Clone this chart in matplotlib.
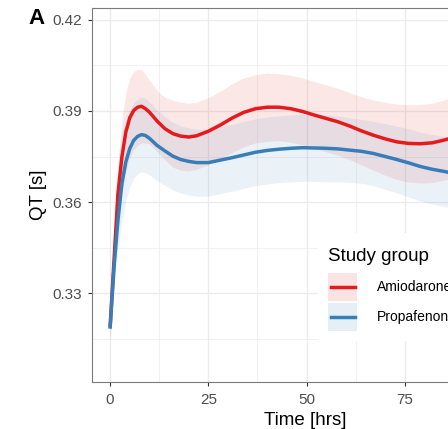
import matplotlib
matplotlib.use('Agg')
import matplotlib.pyplot as plt
from matplotlib.patches import Rectangle
from matplotlib.lines import Line2D
import numpy as np

plt.rcParams['font.family'] = ['Liberation Sans', 'DejaVu Sans']

# -----------------------------------------------------------
# data (time in hours, QT in seconds)
# -----------------------------------------------------------
time_hrs = [0, 1, 2, 3, 4, 5, 6, 7, 8, 9, 10, 12, 14, 16, 18, 20, 22, 25,
            28, 31, 34, 37, 40, 43, 46, 49, 52, 55, 58, 61, 64, 67, 70,
            73, 76, 79, 82, 85, 88, 91]

qt_amio = [0.3188, 0.3408, 0.3628, 0.3748, 0.3830, 0.3877, 0.3901, 0.3912,
           0.3915, 0.3907, 0.3896, 0.3866, 0.3841, 0.3825, 0.3817, 0.3814,
           0.3818, 0.3833, 0.3853, 0.3876, 0.3895, 0.3907, 0.3912, 0.3912,
           0.3907, 0.3898, 0.3886, 0.3875, 0.3864, 0.3850, 0.3834, 0.3820,
           0.3808, 0.3798, 0.3793, 0.3792, 0.3795, 0.3804, 0.3815, 0.3828]

qt_prop = [0.3184, 0.3386, 0.3540, 0.3660, 0.3732, 0.3776, 0.3803, 0.3816,
           0.3822, 0.3819, 0.3810, 0.3786, 0.3768, 0.3751, 0.3740, 0.3734,
           0.3730, 0.3730, 0.3738, 0.3746, 0.3755, 0.3764, 0.3770, 0.3774,
           0.3777, 0.3779, 0.3778, 0.3777, 0.3775, 0.3771, 0.3767, 0.3760,
           0.3750, 0.3740, 0.3729, 0.3717, 0.3708, 0.3701, 0.3693, 0.3685]

# half width of the confidence ribbons
ci_amio = [0.004, 0.007, 0.010, 0.012, 0.013, 0.013, 0.0128, 0.0125,
           0.012, 0.0113, 0.0105, 0.0100, 0.0103, 0.0110, 0.0112, 0.0111,
           0.0110, 0.0110, 0.0111, 0.0113, 0.0113, 0.0112, 0.0112, 0.0110,
           0.0110, 0.0110, 0.0110, 0.0110, 0.0110, 0.0110, 0.0112, 0.0115,
           0.0120, 0.0124, 0.0127, 0.0129, 0.0130, 0.0132, 0.0135, 0.0138]

ci_prop = [0.004, 0.007, 0.010, 0.012, 0.0125, 0.0125, 0.0124, 0.0123,
           0.0123, 0.0122, 0.0120, 0.0116, 0.0113, 0.0111, 0.0110, 0.0110,
           0.0110, 0.0110, 0.0110, 0.0110, 0.0110, 0.0110, 0.0110, 0.0110,
           0.0110, 0.0110, 0.0110, 0.0110, 0.0108, 0.0106, 0.0105, 0.0106,
           0.0108, 0.0110, 0.0112, 0.0113, 0.0114, 0.0115, 0.0116, 0.0118]

groups = ['Amiodarone', 'Propafenone']
colors = ['#E41A1C', '#377EB8']

# -----------------------------------------------------------
# figure
# -----------------------------------------------------------
W, H = 448, 429
fig = plt.figure(figsize=(W / 100, H / 100), dpi=100)
ax = fig.add_axes([92 / W, 47.3 / H, 397.7 / W, 374 / H])

t = np.array(time_hrs)
for y, ci, c in zip([qt_amio, qt_prop], [ci_amio, ci_prop], colors):
    y = np.array(y)
    ci = np.array(ci)
    ax.fill_between(t, y - ci, y + ci, color=c, alpha=0.1, linewidth=0, zorder=2)
for y, c in zip([qt_amio, qt_prop], colors):
    ax.plot(t, y, color=c, linewidth=2.5, zorder=3, solid_capstyle='butt')

ax.set_xlim(-4.6, 96.6)
ax.set_ylim(0.301, 0.4239)
ax.set_xticks([0, 25, 50, 75])
ax.set_xticks([12.5, 37.5, 62.5, 87.5], minor=True)
ax.set_yticks([0.33, 0.36, 0.39, 0.42])
ax.set_yticks([0.315, 0.345, 0.375, 0.405], minor=True)
ax.set_yticklabels(['0.33', '0.36', '0.39', '0.42'])

ax.grid(True, which='major', color='#EBEBEB', linewidth=1.0, zorder=0)
ax.grid(True, which='minor', color='#EBEBEB', linewidth=0.5, zorder=0)
ax.set_axisbelow(True)

for s in ax.spines.values():
    s.set_color('#7A7A7A')
    s.set_linewidth(0.8)

ax.tick_params(which='major', length=3, width=0.8, color='#333333',
               labelsize=11, labelcolor='#4D4D4D', pad=4)
ax.tick_params(axis='x', which='major', pad=5)
ax.tick_params(which='minor', length=0)

ax.set_xlabel('Time [hrs]', fontsize=13.5)
ax.xaxis.set_label_coords((305 - 92) / 397.7, -0.08)
ax.set_ylabel('QT [s]', fontsize=13.5, labelpad=4)

fig.text(28.5 / W, 1 - 24.5 / H, 'A', fontsize=16, fontweight='bold',
         ha='left', va='baseline')

# -----------------------------------------------------------
# legend (drawn by hand to match the ggplot guide layout)
# -----------------------------------------------------------
tf = fig.transFigure
fig.patches.append(Rectangle((318 / W, 1 - 341 / H), 140 / W, 108 / H,
                             transform=tf, facecolor='white',
                             edgecolor='none', zorder=5))
fig.text(328 / W, 1 - 261 / H, 'Study group', fontsize=13.5,
         ha='left', va='baseline', zorder=6)
key_tops = [272.7, 302.7]
for top, c, name in zip(key_tops, colors, groups):
    fig.patches.append(Rectangle((328 / W, 1 - (top + 28) / H), 29 / W, 28 / H,
                                 transform=tf, facecolor=c, alpha=0.12,
                                 edgecolor='none', zorder=6))
    yc = 1 - (top + 14) / H
    fig.lines.append(Line2D([330.5 / W, 354.5 / W], [yc, yc], transform=tf,
                            color=c, linewidth=2.5, zorder=7))
    fig.text(376.7 / W, yc, name, fontsize=10, ha='left', va='center',
             zorder=7)

fig.savefig('out.png', dpi=100)
